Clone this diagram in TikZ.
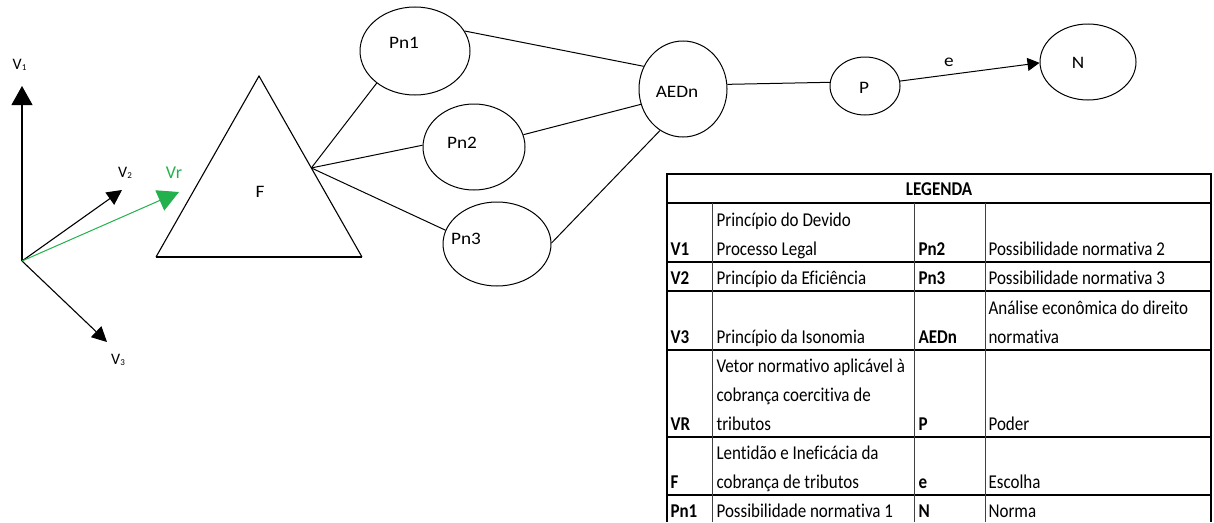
\documentclass[tikz,border=0pt]{standalone}
\usepackage{fontspec}
\setmainfont{Carlito}[Ligatures=NoCommon]
\usetikzlibrary{shapes.geometric,arrows.meta,calc}
\definecolor{vgreen}{RGB}{34,177,76}
\begin{document}
\begin{tikzpicture}[x=1pt,y=-1pt,
  line width=1.1pt,
  bubble/.style={draw, ellipse, inner sep=0pt, line width=1pt},
  lbl/.style={font=\fontsize{17.5}{21}\selectfont, inner sep=0pt},
  vlbl/.style={font=\fontsize{16}{18}\selectfont, inner sep=0pt},
  vec/.style={-{Triangle[length=15pt,width=15pt]}},
  cell/.style={font=\fontsize{17}{20}\selectfont, anchor=base west, inner sep=0pt},
  key/.style={font=\fontsize{17}{20}\selectfont\bfseries, anchor=base west, inner sep=0pt},
  hrule/.style={line width=1.7pt},
  vrule/.style={line width=0.9pt, black!75},
]
\newcommand{\vsub}[1]{V\raisebox{-1pt}{\fontsize{9}{9}\selectfont #1}}
\newcommand{\tall}[1]{\scalebox{1}[1.15]{#1}}
\newcommand{\wide}[1]{\scalebox{1.1}[1]{#1}}
\useasboundingbox (0,0) rectangle (1214,522);

% ---- vectors ----
\coordinate (o) at (22,261);
\coordinate (v1tip) at (22,86);
\coordinate (v2tip) at (122,190);
\coordinate (vrtip) at (179,192);
\coordinate (v3tip) at (107,342);
\draw[-{Triangle[length=19pt,width=21pt]}] (o) -- (v1tip);
\draw[vec] (o) -- (v2tip);
\draw[vec] (o) -- (v3tip);
\draw[vgreen, line width=1pt, -{Triangle[length=21pt,width=22pt]}] (o) -- (vrtip);
\node[vlbl] (l1) at (19.5,65) {\vsub{1}};
\node[vlbl] (l2) at (125,173) {\vsub{2}};
\node[vlbl] (l3) at (118,360) {\vsub{3}};
\node[lbl, font=\fontsize{18}{20}\selectfont, text=vgreen] (lr) at (174,173) {Vr};

% ---- triangle F ----
\coordinate (ta) at (259,76);
\coordinate (tl) at (156,257);
\coordinate (tr) at (362,257);
\draw (tl) -- (ta) -- (tr);
\draw[line width=1.8pt] (tl) -- (tr);
\coordinate (fr) at ($(ta)!0.508!(tr)$);
\node[lbl] (f) at (260,192) {\wide{F}};

% ---- normative possibilities ----
\node[bubble, minimum width=110pt, minimum height=88pt] (pn1) at (415,51) {};
\node[bubble, minimum width=102pt, minimum height=86pt] (pn2) at (474,147) {};
\node[bubble, minimum width=108pt, minimum height=84pt] (pn3) at (497,244) {};
\node[bubble, minimum width=88pt, minimum height=96pt] (aedn) at (683,89) {};
\node[bubble, minimum width=70pt, minimum height=58pt] (p) at (865,86) {};
\node[bubble, minimum width=96pt, minimum height=76pt] (n) at (1088,62) {};

\node[lbl] (tpn1) at (404,43) {\wide{Pn1}};
\node[lbl] (tpn2) at (462,143) {\wide{Pn2}};
\node[lbl] (tpn3) at (466,239) {\wide{Pn3}};
\node[lbl] (taedn) at (677,92) {\wide{AEDn}};
\node[lbl] (tp) at (864,88) {\wide{P}};
\node[lbl] (tn) at (1078,63) {\wide{N}};

\begin{scope}[line width=1pt]
\draw (fr) -- (pn1.220);
\draw (fr) -- (pn2.178);
\draw (fr) -- (pn3.165);
\draw (pn1.22) -- (aedn.150);
\draw (pn2.14) -- (aedn.200);
\draw (pn3.1) -- (aedn.241);
\draw (aedn.6) -- (p.174);
\draw[-{Triangle[length=12pt,width=13pt]}] (p.8) -- (n.181)
  node[lbl, pos=0.35, above=8pt] (te) {\wide{e}};
\end{scope}

% ---- legend table ----
\foreach \yy in {174,203,262,291,350,437,495}
  \draw[hrule] (667,\yy) -- (1211,\yy);
\draw[hrule] (667,173.2) -- (667,522);
\draw[hrule] (1211,173.2) -- (1211,522);
\foreach \xx in {712,914,985}
  \draw[vrule] (\xx,203) -- (\xx,522);

\node[key, anchor=base] (hd) at (939,195) {\tall{LEGENDA}};

\node[key] (k1) at (670,255) {\tall{V1}};
\node[cell] (d1a) at (716,226) {\tall{Princípio do Devido}};
\node[cell] (d1b) at (716,255) {\tall{Processo Legal}};
\node[key] (k2) at (918,255) {\tall{Pn2}};
\node[cell] (d2) at (988,255) {\tall{Possibilidade normativa 2}};

\node[key] (k3) at (670,284) {\tall{V2}};
\node[cell] (d3) at (716,284) {\tall{Princípio da Eficiência}};
\node[key] (k4) at (918,284) {\tall{Pn3}};
\node[cell] (d4) at (988,284) {\tall{Possibilidade normativa 3}};

\node[key] (k5) at (670,343) {\tall{V3}};
\node[cell] (d5) at (716,343) {\tall{Princípio da Isonomia}};
\node[key] (k6) at (918,343) {\tall{AEDn}};
\node[cell] (d6a) at (988,314) {\tall{Análise econômica do direito}};
\node[cell] (d6b) at (988,343) {\tall{normativa}};

\node[key] (k7) at (670,430) {\tall{VR}};
\node[cell] (d7a) at (716,372) {\tall{Vetor normativo aplicável à}};
\node[cell] (d7b) at (716,401) {\tall{cobrança coercitiva de}};
\node[cell] (d7c) at (716,430) {\tall{tributos}};
\node[key] (k8) at (918,430) {\tall{P}};
\node[cell] (d8) at (988,430) {\tall{Poder}};

\node[key] (k9) at (670,488) {\tall{F}};
\node[cell] (d9a) at (716,459) {\tall{Lentidão e Ineficácia da}};
\node[cell] (d9b) at (716,488) {\tall{cobrança de tributos}};
\node[key] (k10) at (918,488) {\tall{e}};
\node[cell] (d10) at (988,488) {\tall{Escolha}};

\node[key] (k11) at (670,517) {\tall{Pn1}};
\node[cell] (d11) at (716,517) {\tall{Possibilidade normativa 1}};
\node[key] (k12) at (918,517) {\tall{N}};
\node[cell] (d12) at (988,517) {\tall{Norma}};
\end{tikzpicture}
\end{document}
